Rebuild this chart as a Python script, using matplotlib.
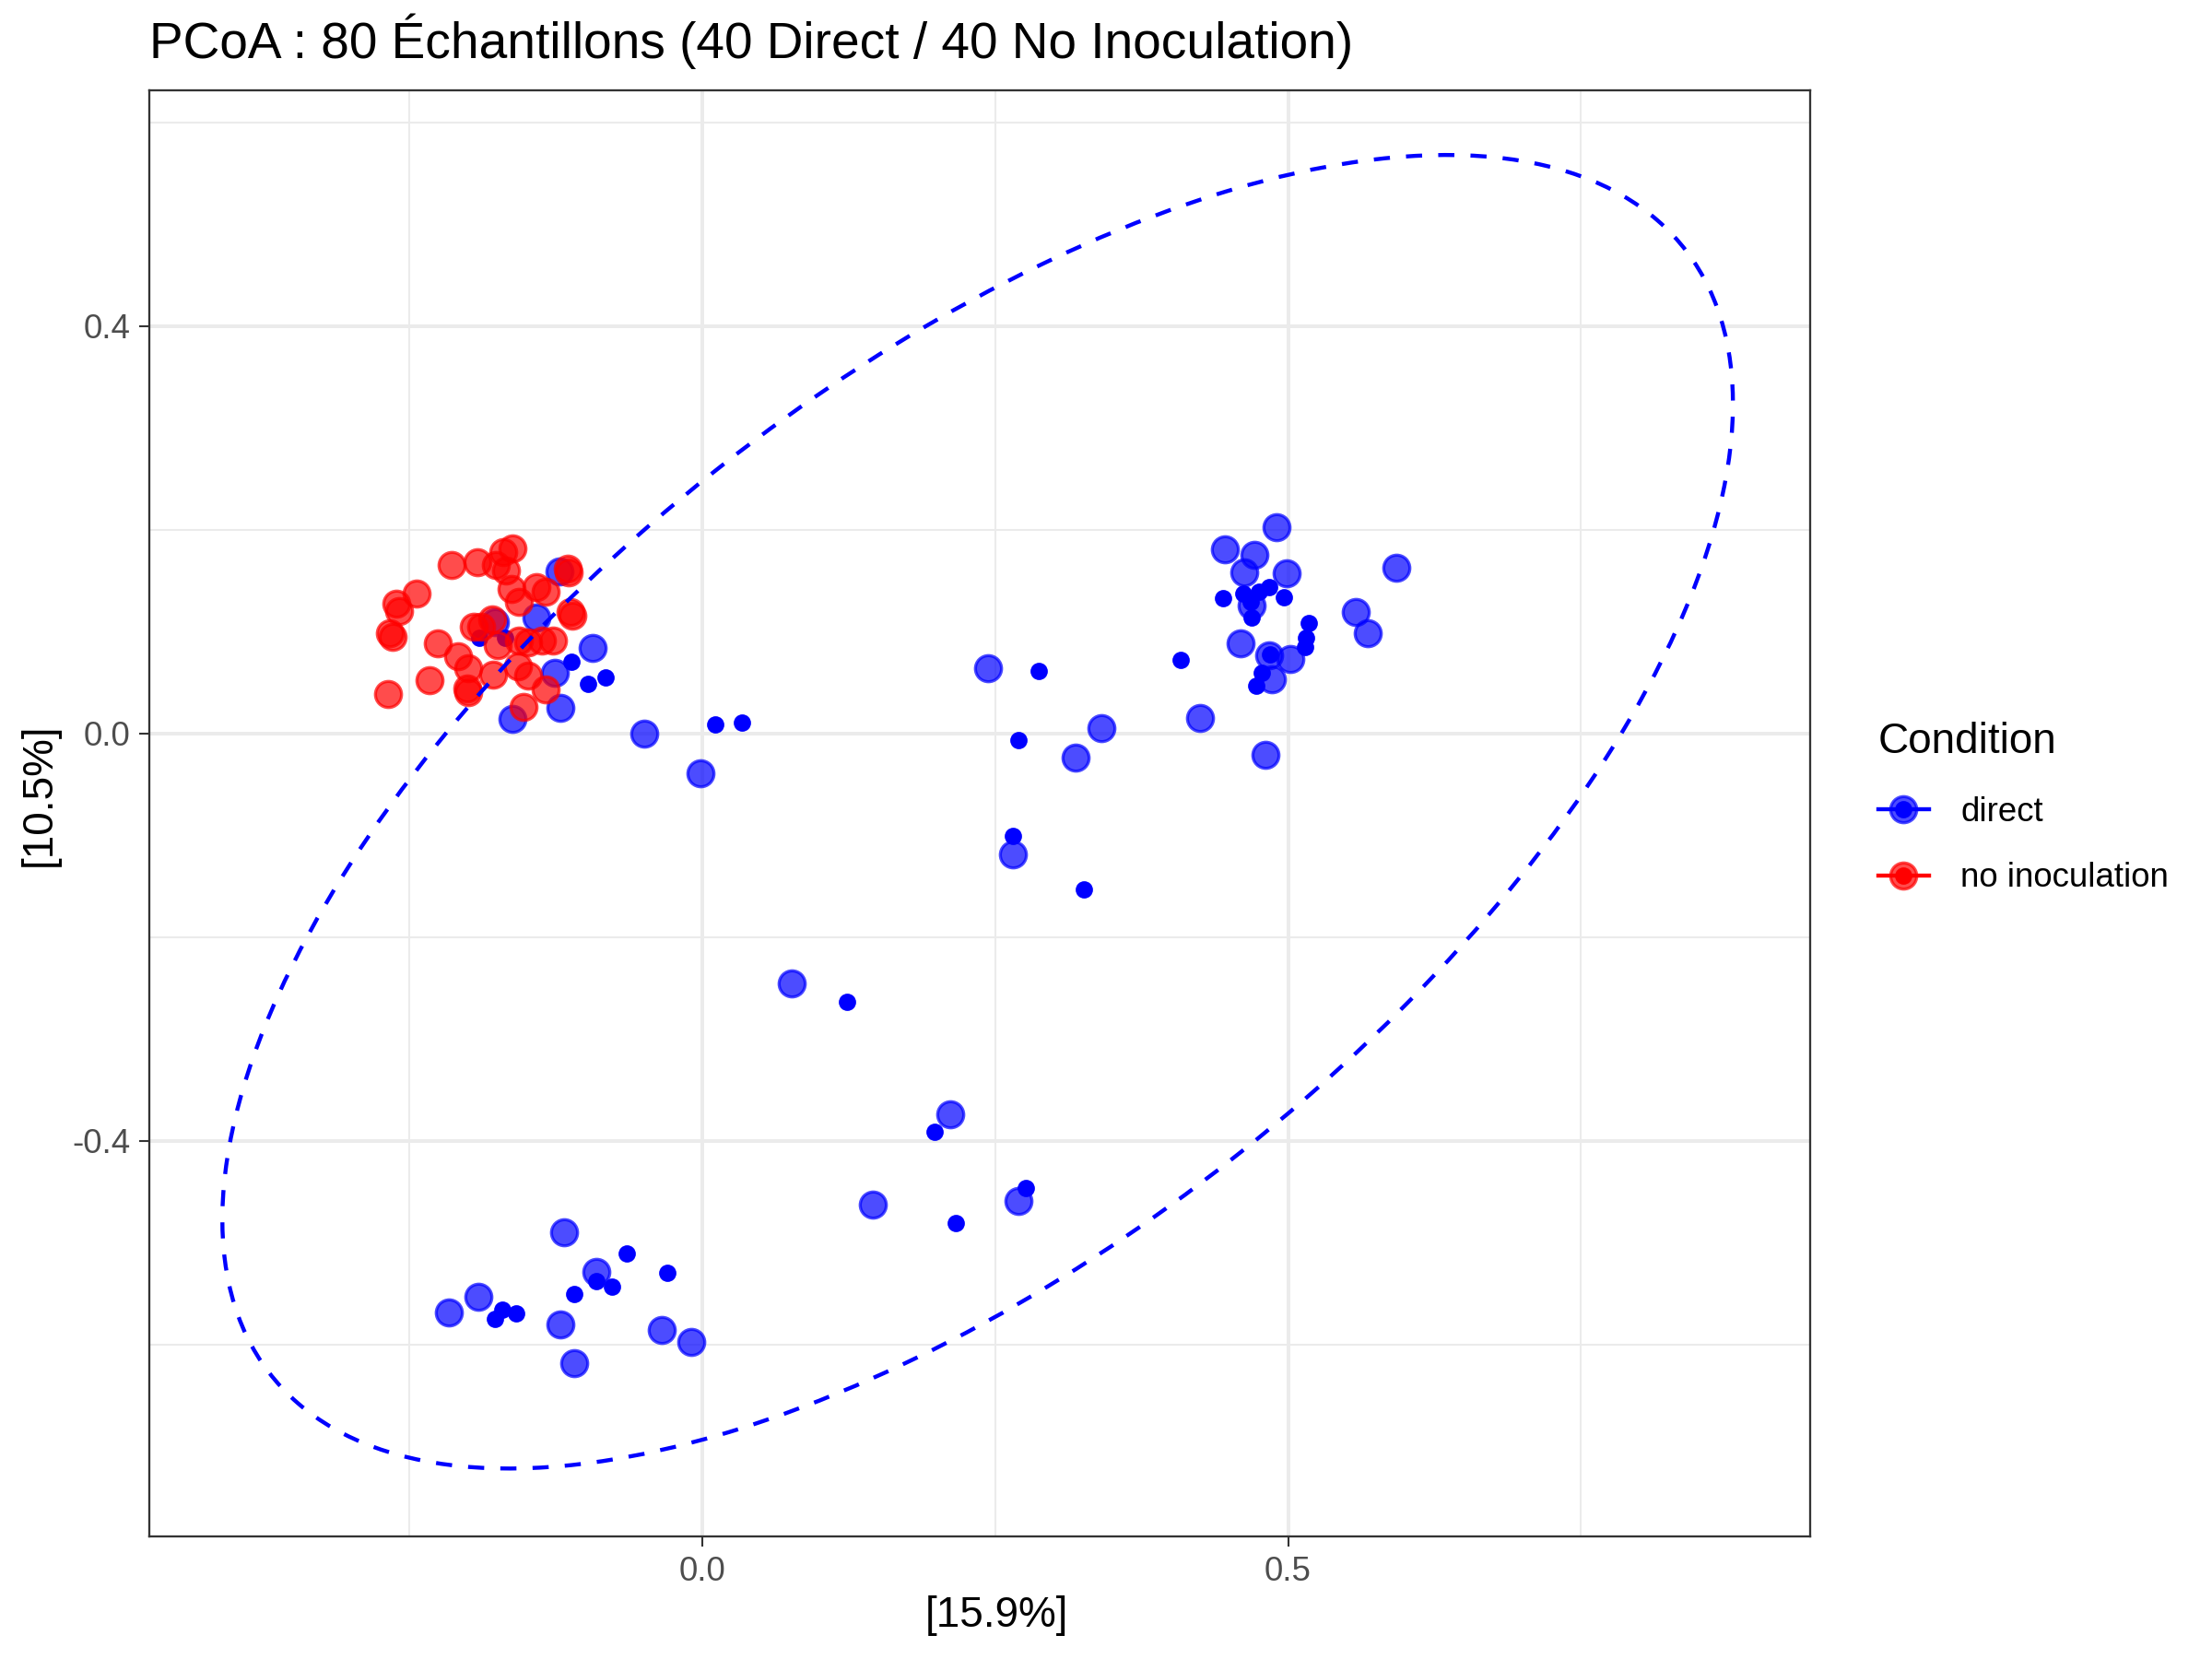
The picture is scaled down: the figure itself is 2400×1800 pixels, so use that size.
import matplotlib
matplotlib.use("Agg")
import matplotlib.pyplot as plt
from matplotlib.lines import Line2D
from matplotlib.patches import Ellipse
from matplotlib.legend_handler import HandlerTuple

plt.rcParams["font.family"] = ["Liberation Sans", "DejaVu Sans"]

# --- data -------------------------------------------------------------------
# no inoculation (large, semi-transparent red points)
noinoc_x = [-0.1625, -0.170, -0.176, -0.168, -0.214, -0.192, -0.115, -0.114,
            -0.244, -0.2613, -0.2587, -0.2666, -0.2645, -0.163, -0.1564, -0.142,
            -0.134, -0.1795, -0.1892, -0.1124, -0.1113, -0.226, -0.2089, -0.1997,
            -0.2005, -0.1997, -0.233, -0.2687, -0.1787, -0.1748, -0.1564, -0.1486,
            -0.1367, -0.1276, -0.1577, -0.1486, -0.134, -0.1525, -0.1952]
noinoc_y = [0.182, 0.178, 0.165, 0.160, 0.165, 0.168, 0.162, 0.158,
            0.137, 0.1273, 0.1198, 0.0987, 0.095, 0.142, 0.1294, 0.144,
            0.139, 0.1122, 0.1047, 0.1192, 0.1153, 0.0881, 0.076, 0.064,
            0.0444, 0.0408, 0.052, 0.0389, 0.058, 0.0866, 0.0911, 0.0896,
            0.0911, 0.0911, 0.0655, 0.0564, 0.0429, 0.0263, 0.1047]

# direct (large, semi-transparent blue points)
direct_x = [-0.1223, -0.1774, -0.142, -0.0935, -0.1263, -0.121, -0.1625, -0.050,
            0.490, 0.4463, 0.4709, 0.4625, 0.4992, 0.5923, 0.5582, 0.568,
            0.469, 0.4594, 0.484, 0.5018, 0.4866, 0.425, 0.4809,
            -0.1179, -0.0903, -0.191, -0.2168, -0.1216, -0.1097, -0.035, -0.0096,
            0.2441, -0.0017, 0.341, 0.3188, 0.265, 0.076, 0.2113, 0.1457, 0.2698]
direct_y = [0.159, 0.1092, 0.1138, 0.0836, 0.0595, 0.0248, 0.0142, 0.0,
            0.2021, 0.1807, 0.1756, 0.1584, 0.1569, 0.1626, 0.1189, 0.098,
            0.1258, 0.0881, 0.0770, 0.0730, 0.0534, 0.0151, -0.021,
            -0.4902, -0.5288, -0.5535, -0.5686, -0.5807, -0.6184, -0.5861, -0.5976,
            0.064, -0.0395, 0.0052, -0.0241, -0.1185, -0.2458, -0.374, -0.4624, -0.4594]

# direct (small, opaque blue points)
direct_small_x = [-0.1905, -0.1682, -0.1118, -0.0974, -0.083,
                  0.4449, 0.462, 0.4751, 0.4835, 0.4961, 0.4683, 0.469,
                  0.5176, 0.5157, 0.5144, 0.4848, 0.4777, 0.473, 0.4082,
                  -0.0646, -0.030, -0.0903, -0.077, -0.1095, -0.1709, -0.159, -0.1769,
                  0.2868, 0.0107, 0.0337, 0.270, 0.265, 0.326, 0.1237, 0.1982,
                  0.216, 0.2758]
direct_small_y = [0.0941, 0.0941, 0.070, 0.0489, 0.0549,
                  0.1325, 0.1373, 0.1394, 0.1439, 0.1337, 0.1288, 0.1138,
                  0.1083, 0.0941, 0.0851, 0.0776, 0.0595, 0.0468, 0.0721,
                  -0.5107, -0.5294, -0.5378, -0.5433, -0.5505, -0.5656, -0.5695, -0.5746,
                  0.061, 0.0091, 0.0109, -0.0069, -0.101, -0.1535, -0.2633, -0.3915,
                  -0.4805, -0.4467]

# 95% ellipse of the direct group (centre, full axes lengths, angle in degrees)
ellipse_center = (0.235, -0.077)
ellipse_width = 1.642
ellipse_height = 0.794
ellipse_angle = 45.0

BLUE = "#0000FF"
RED = "#FF0000"
GRID = "#EBEBEB"
DARK = "#333333"

fig = plt.figure(figsize=(8, 6), dpi=300)
ax = fig.add_axes([0.0675, 0.0739, 0.7508, 0.8717])

ax.scatter(direct_x, direct_y, s=6.8 ** 2, color=BLUE, alpha=0.7,
           linewidths=0.8, zorder=3)
ax.scatter(direct_small_x, direct_small_y, s=4.0 ** 2, color=BLUE,
           linewidths=0.5, zorder=4)
ax.scatter(noinoc_x, noinoc_y, s=6.8 ** 2, color=RED, alpha=0.7,
           linewidths=0.8, zorder=5)

ax.add_patch(Ellipse(ellipse_center, ellipse_width, ellipse_height,
                     angle=ellipse_angle, fill=False, edgecolor=BLUE,
                     linewidth=1.05, linestyle=(0, (4, 4)), zorder=6))

ax.set_xlim(-0.4722, 0.9457)
ax.set_ylim(-0.7885, 0.6314)
ax.set_xticks([0.0, 0.5])
ax.set_xticklabels(["0.0", "0.5"])
ax.set_yticks([-0.4, 0.0, 0.4])
ax.set_yticklabels(["-0.4", "0.0", "0.4"])
ax.set_xticks([-0.25, 0.25, 0.75], minor=True)
ax.set_yticks([-0.6, -0.2, 0.2, 0.6], minor=True)
ax.grid(which="major", color=GRID, linewidth=0.95, zorder=0)
ax.grid(which="minor", color=GRID, linewidth=0.5, zorder=0)
ax.set_axisbelow(True)
ax.tick_params(which="major", length=2.75, width=0.5, color=DARK,
               labelsize=8.8, labelcolor="#4D4D4D", pad=2.2)
ax.tick_params(which="minor", length=0)
for sp in ax.spines.values():
    sp.set_color(DARK)
    sp.set_linewidth(0.55)

# axis titles placed where they sit in the reference
fig.text(0.4508, 0.0262, "[15.9%]", fontsize=11, ha="center", va="center")
fig.text(0.018, 0.521, "[10.5%]", fontsize=11, ha="center", va="center",
         rotation=90)
fig.text(0.0675, 0.965, "PCoA : 80 Échantillons (40 Direct / 40 No Inoculation)",
         fontsize=13.2, ha="left", va="baseline")


def key(color):
    line = Line2D([], [], color=color, linewidth=1.05)
    big = Line2D([], [], linestyle="none", marker="o", markersize=6.8,
                 color=color, alpha=0.7, markeredgewidth=0.8)
    small = Line2D([], [], linestyle="none", marker="o", markersize=4.0,
                   color=color, markeredgewidth=0.5)
    return (line, big, small)


leg = ax.legend([key(BLUE), key(RED)], ["direct", "no inoculation"],
                handler_map={tuple: HandlerTuple(ndivide=1, pad=0)},
                title="Condition", loc="upper left",
                bbox_to_anchor=(0.849, 0.565), bbox_transform=fig.transFigure,
                frameon=False, fontsize=8.8, title_fontsize=11,
                handlelength=1.5, handletextpad=0.95, labelspacing=1.0,
                borderaxespad=0, borderpad=0)
leg._legend_box.align = "left"

fig.savefig("out.png", dpi=300, facecolor="white")
